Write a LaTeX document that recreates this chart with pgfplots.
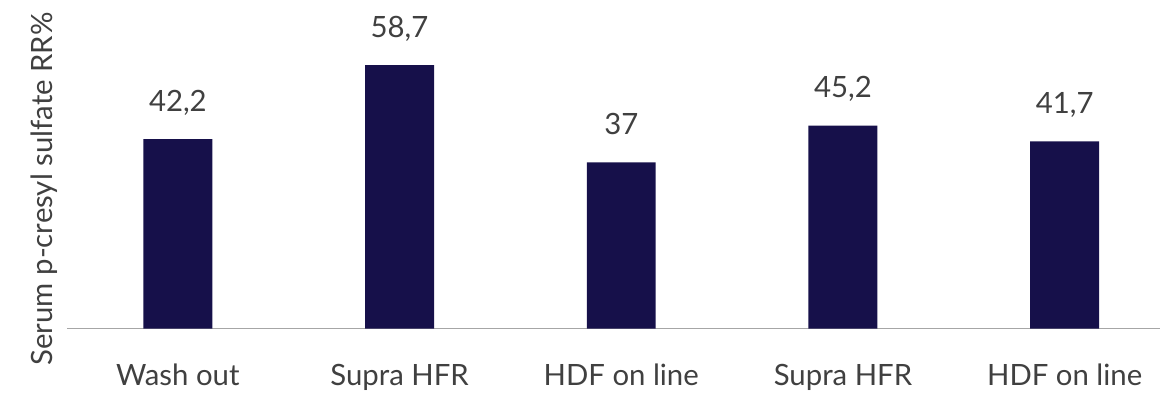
\documentclass[border=0pt]{standalone}
\usepackage{pgfplots}
\pgfplotsset{compat=1.18}
\usepackage{fontspec}
\setmainfont{Lato}
\definecolor{barc}{HTML}{16104A}
\definecolor{txt}{HTML}{404040}
\definecolor{axc}{HTML}{A6A6A6}
\begin{document}
\begin{tikzpicture}
\begin{axis}[
  at={(50.25pt,48.375pt)}, anchor=south west,
  scale only axis,
  width=819.75pt, height=246.4pt,
  xmin=-0.5, xmax=4.43, ymin=0, ymax=73.2,
  axis y line*=left,
  y axis line style={draw=none},
  ytick=\empty,
  axis x line=bottom,
  x axis line style={-, draw=axc, line width=1.1pt},
  xtick=data,
  xticklabels={Wash out, Supra HFR, HDF on line, Supra HFR, HDF on line},
  major tick length=0pt,
  xtick style={draw=none},
  xticklabel style={anchor=base, yshift=-42.4pt, font=\fontsize{22}{25}\selectfont, text=txt},
  ybar, bar width=0.311,
  clip=false,
  point meta=explicit symbolic,
  nodes near coords,
  every node near coord/.append style={anchor=base, yshift=21pt, font=\fontsize{22}{25}\selectfont, text=txt},
  ylabel={Serum p-cresyl sulfate RR\%},
  every axis y label/.style={at={(axis description cs:-0.0137,0.425)}, rotate=90, anchor=base, font=\fontsize{22}{25}\selectfont, text=txt},
]
\addplot[fill=barc, draw=none] coordinates {
 (0,42.2) [42,2]
 (1,58.7) [58,7]
 (2,37) [37]
 (3,45.2) [45,2]
 (4,41.7) [41,7]
};
\end{axis}
\pgfresetboundingbox
\path (0pt,0pt) rectangle (870pt,294.75pt);
\end{tikzpicture}
\end{document}
